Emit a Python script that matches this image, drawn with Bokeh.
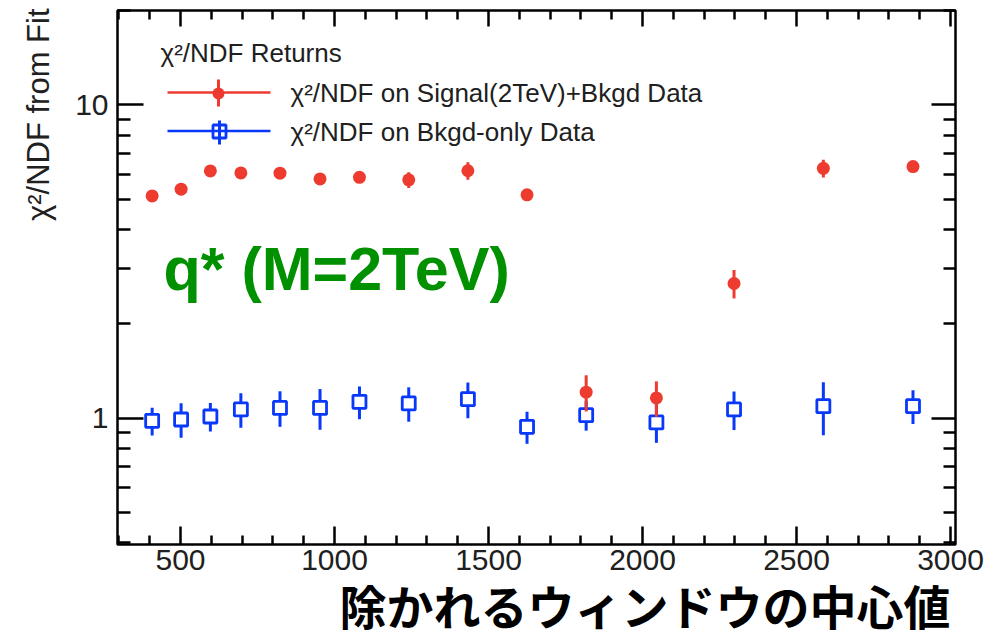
import math
from bokeh.plotting import figure
from bokeh.models import (LinearAxis, LogAxis, FixedTicker, Label, Range1d, Title,
                          PrintfTickFormatter, ColumnDataSource)
from bokeh.embed import file_html
from bokeh.resources import INLINE

# ---------------- data ----------------
window_center = [408, 502, 597, 696, 823, 953, 1081, 1241, 1433, 1625, 1817, 2045, 2297, 2587, 2878]
chi2_sig = [5.12, 5.38, 6.15, 6.06, 6.05, 5.80, 5.87, 5.76, 6.16, 5.16, 1.21, 1.16, 2.69, 6.27, 6.35]
chi2_sig_err = [0.20, 0.20, 0.22, 0.22, 0.22, 0.20, 0.20, 0.33, 0.40, 0.20, 0.16, 0.15, 0.28, 0.41, 0.22]
chi2_bkg = [0.980, 0.990, 1.012, 1.066, 1.078, 1.078, 1.127, 1.114, 1.149, 0.938, 1.022, 0.969, 1.066, 1.092, 1.092]
chi2_bkg_err = [0.100, 0.125, 0.105, 0.135, 0.140, 0.160, 0.135, 0.140, 0.150, 0.110, 0.110, 0.135, 0.150, 0.210, 0.135]

x_major_ticks = [500, 1000, 1500, 2000, 2500, 3000]
x_minor_ticks = [300, 400, 600, 700, 800, 900, 1100, 1200, 1300, 1400, 1600, 1700, 1800, 1900,
                 2100, 2200, 2300, 2400, 2600, 2700, 2800, 2900]
y_major_ticks = [1, 10]
y_minor_ticks = [0.4, 0.5, 0.6, 0.7, 0.8, 0.9, 2, 3, 4, 5, 6, 7, 8, 9, 20]

legend_header = "χ²/NDF Returns"
legend_sig = "χ²/NDF on Signal(2TeV)+Bkgd Data"
legend_bkg = "χ²/NDF on Bkgd-only Data"
y_title = "χ²/NDF from Fit"
x_title = "除かれるウィンドウの中心値"
note_text = "q* (M=2TeV)"

# ---------------- layout / style ----------------
X_LO, X_HI = 295.5, 3016.0
Y_LO, Y_HI = 0.395, 20.0
W, H = 1001, 637
FL, FR, FT, FB = 117, 955, 10, 544   # frame edges in canvas pixels

RED = "#ee3b30"
BLUE = "#0838fa"
GREEN = "#009000"
TXT = "#202020"
FONT = "Liberation Sans"


def fx(px):
    return X_LO + (px - FL) / (FR - FL) * (X_HI - X_LO)


def fy(py):
    lo, hi = math.log10(Y_LO), math.log10(Y_HI)
    return 10 ** (lo + (FB - py) / (FB - FT) * (hi - lo))


p = figure(width=W, height=H, output_backend="svg", toolbar_location=None,
           y_axis_type="log", x_axis_location=None, y_axis_location=None,
           x_range=Range1d(X_LO, X_HI), y_range=Range1d(Y_LO, Y_HI),
           min_border_left=FL, min_border_right=W - FR,
           min_border_top=FT, min_border_bottom=H - FB)
p.grid.visible = False
p.outline_line_color = "black"
p.outline_line_width = 2.5
p.background_fill_color = "white"
p.border_fill_color = "white"

xt = FixedTicker(ticks=x_major_ticks, minor_ticks=x_minor_ticks)
yt = FixedTicker(ticks=y_major_ticks, minor_ticks=y_minor_ticks)


def style_axis(ax, major_in, minor_in, labels):
    ax.axis_line_color = None
    ax.major_tick_out = 0
    ax.minor_tick_out = 0
    ax.major_tick_in = major_in
    ax.minor_tick_in = minor_in
    ax.major_tick_line_width = 2.5
    ax.minor_tick_line_width = 2.5
    ax.major_tick_line_color = "black"
    ax.minor_tick_line_color = "black"
    ax.major_label_text_font = FONT
    if labels:
        ax.major_label_text_font_size = "30px"
        ax.major_label_text_color = TXT
    else:
        ax.major_label_text_font_size = "1px"
        ax.major_label_text_color = None
        ax.major_label_standoff = 0


bottom = LinearAxis(ticker=xt)
style_axis(bottom, 18, 9, True)
bottom.major_label_standoff = 5
top = LinearAxis(ticker=xt)
style_axis(top, 16, 9, False)
left = LogAxis(ticker=yt, formatter=PrintfTickFormatter(format="%d"))
style_axis(left, 26, 13, True)
left.major_label_standoff = 9
right = LogAxis(ticker=yt, formatter=PrintfTickFormatter(format="%d"))
style_axis(right, 24, 12, False)
p.add_layout(bottom, "below")
p.add_layout(top, "above")
p.add_layout(left, "left")
p.add_layout(right, "right")

# axis titles (ROOT-style: right-aligned at the axis end)
p.add_layout(Title(text=x_title, align="right", offset=5, standoff=-10,
                   text_font="Noto Sans CJK JP", text_font_size="47px",
                   text_font_style="bold", text_color="black"), "below")
p.add_layout(Title(text=y_title, align="right", offset=-2, standoff=33,
                   text_font=FONT, text_font_size="31px",
                   text_font_style="normal", text_color=TXT), "left")

# ---------------- data marks ----------------
bkg_src = ColumnDataSource(dict(
    x=window_center, y=chi2_bkg,
    lo=[v - e for v, e in zip(chi2_bkg, chi2_bkg_err)],
    hi=[v + e for v, e in zip(chi2_bkg, chi2_bkg_err)]))
sig_src = ColumnDataSource(dict(
    x=window_center, y=chi2_sig,
    lo=[v - e for v, e in zip(chi2_sig, chi2_sig_err)],
    hi=[v + e for v, e in zip(chi2_sig, chi2_sig_err)]))

p.segment(x0="x", x1="x", y0="lo", y1="hi", source=bkg_src, line_color=BLUE, line_width=3)
p.scatter(x="x", y="y", source=bkg_src, marker="square", size=13, line_width=2.8,
          line_color=BLUE, fill_color="white")
p.segment(x0="x", x1="x", y0="lo", y1="hi", source=sig_src, line_color=RED, line_width=3)
p.scatter(x="x", y="y", source=sig_src, marker="circle", size=13, line_width=0,
          fill_color=RED, line_color=RED)

# ---------------- legend ----------------
p.segment(x0=[fx(167)], x1=[fx(270)], y0=[fy(92)], y1=[fy(92)], line_color=RED, line_width=2.6)
p.segment(x0=[fx(218)], x1=[fx(218)], y0=[fy(79)], y1=[fy(106)], line_color=RED, line_width=3)
p.scatter(x=[fx(218)], y=[fy(93)], marker="circle", size=12, fill_color=RED, line_color=RED, line_width=0)
p.segment(x0=[fx(167)], x1=[fx(270)], y0=[fy(130.5)], y1=[fy(130.5)], line_color=BLUE, line_width=2.6)
p.segment(x0=[fx(219)], x1=[fx(219)], y0=[fy(120)], y1=[fy(144)], line_color=BLUE, line_width=3)
p.scatter(x=[fx(219)], y=[fy(131)], marker="square", size=13, fill_color=None,
          line_color=BLUE, line_width=2.8)


def lab(text, cx, cy, size, align="left", baseline="middle", color=TXT, font=FONT,
        style="normal", angle=0.0):
    p.add_layout(Label(x=cx - FL, y=FB - cy, x_units="screen", y_units="screen",
                       text=text, text_font=font, text_font_size=size,
                       text_font_style=style, text_color=color, text_align=align,
                       text_baseline=baseline, angle=angle))


lab(legend_header, 160, 52, "26px")
lab(legend_sig, 290, 92, "26px")
lab(legend_bkg, 290, 131, "26px")
lab(note_text, 163, 268, "61px", color=GREEN, style="bold")

open("out.html", "w").write(file_html(p, INLINE))
